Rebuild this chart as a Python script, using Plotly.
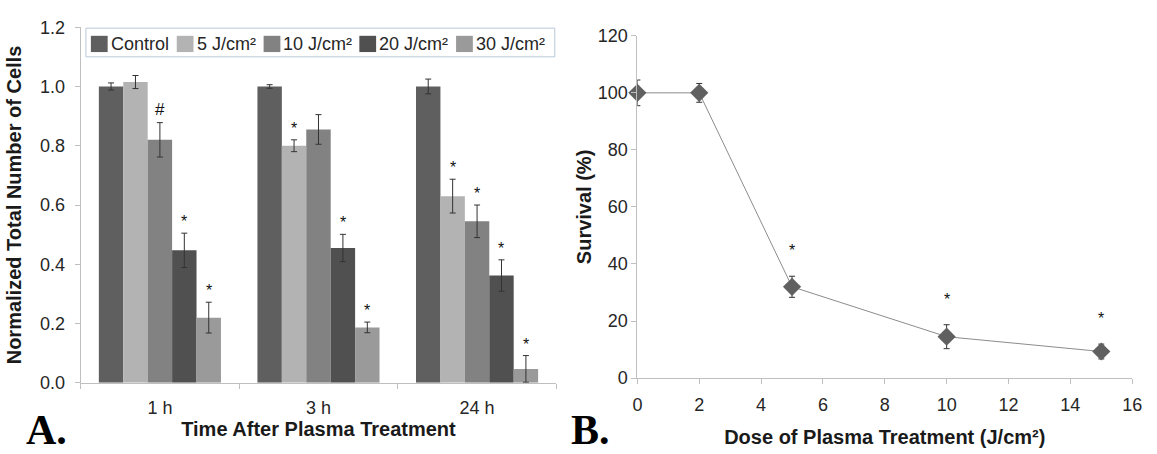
import plotly.graph_objects as go

# ---- Panel A: normalized cell counts over time ----
times = ["1 h", "3 h", "24 h"]
doses = ["Control", "5 J/cm²", "10 J/cm²", "20 J/cm²", "30 J/cm²"]
bar_colors = ["#5f5f5f", "#b3b3b3", "#828282", "#505050", "#9a9a9a"]

control = [1.00, 1.00, 1.00]
dose5 = [1.015, 0.80, 0.63]
dose10 = [0.82, 0.855, 0.545]
dose20 = [0.447, 0.455, 0.362]
dose30 = [0.22, 0.187, 0.047]

control_err = [0.012, 0.006, 0.025]
dose5_err = [0.022, 0.02, 0.057]
dose10_err = [0.058, 0.05, 0.055]
dose20_err = [0.058, 0.046, 0.053]
dose30_err = [0.052, 0.018, 0.045]

# significance marks per (time, dose) ; "" = none
marks = [
    ["", "", "#", "*", "*"],
    ["", "*", "", "*", "*"],
    ["", "*", "*", "*", "*"],
]

# ---- Panel B: survival versus dose ----
dose_b = [0, 2, 5, 10, 15]
survival = [100, 100, 32, 14.5, 9.3]
survival_err = [4.5, 3.3, 3.7, 4.2, 2.6]
marks_b = ["", "", "*", "*", "*"]

W, H = 1157, 454
BARGAP = 0.23
SANS = "Liberation Sans, Arial, sans-serif"
axis_grey = "#bfbfbf"
tick_font = dict(family=SANS, size=18, color="#262626")
title_font = dict(family=SANS, size=20, color="#1a1a1a")


def px(x):
    return x / W


def py(y):
    return 1 - y / H


fig = go.Figure()

values = [control, dose5, dose10, dose20, dose30]
errors = [control_err, dose5_err, dose10_err, dose20_err, dose30_err]
for name, col, vals, errs in zip(doses, bar_colors, values, errors):
    fig.add_trace(go.Bar(
        x=times, y=vals, name=name, showlegend=False,
        marker=dict(color=col, line=dict(width=0)),
        error_y=dict(type="data", array=errs, color="#333333", thickness=1, width=3),
        xaxis="x", yaxis="y",
    ))

fig.add_trace(go.Scatter(
    x=dose_b, y=survival, mode="lines+markers", showlegend=False, cliponaxis=False,
    line=dict(color="#8c8c8c", width=1),
    marker=dict(symbol="diamond", size=14, color="#606060"),
    error_y=dict(type="data", array=survival_err, color="#333333", thickness=1, width=3),
    xaxis="x2", yaxis="y2",
))

annotations = []
shapes = []

# significance marks above the error bars
bw = (1 - BARGAP) / len(doses)
for i in range(len(times)):
    for j in range(len(doses)):
        m = marks[i][j]
        if not m:
            continue
        top = values[j][i] + errors[j][i]
        annotations.append(dict(
            x=i + (j - 2) * bw, y=top, xref="x", yref="y", text=m, showarrow=False,
            yanchor="bottom", yshift=1 if m == "*" else 2,
            font=dict(family=SANS, size=16 if m == "*" else 17, color="#111111"),
        ))
for xv, yv, ev, m in zip(dose_b, survival, survival_err, marks_b):
    if not m:
        continue
    annotations.append(dict(
        x=xv, y=yv + ev, xref="x2", yref="y2", text=m, showarrow=False,
        yanchor="bottom", yshift=15,
        font=dict(family=SANS, size=16, color="#111111"),
    ))

# legend box for panel A (drawn as shapes + text)
shapes.append(dict(type="rect", xref="paper", yref="paper",
                   x0=px(82), x1=px(557), y0=py(49), y1=py(19),
                   line=dict(color="#b8c8d8", width=1), fillcolor="white", layer="above"))
entry_x = [87, 174, 262, 359, 457]
SQ = 17
for name, col, ex in zip(doses, bar_colors, entry_x):
    shapes.append(dict(type="rect", xref="paper", yref="paper",
                       x0=px(ex), x1=px(ex + SQ), y0=py(44), y1=py(44 - SQ),
                       line=dict(width=0), fillcolor=col, layer="above"))
    annotations.append(dict(
        x=px(ex + SQ + 1), y=py(35.5), xref="paper", yref="paper", text=name,
        showarrow=False, xanchor="left", yanchor="middle",
        font=dict(family=SANS, size=18, color="#262626"),
    ))

# panel letters
for letter, xp in (("A.", 19), ("B.", 571)):
    annotations.append(dict(
        x=px(xp), y=-12 / H, xref="paper", yref="paper", text="<b>%s</b>" % letter,
        showarrow=False, xanchor="left", yanchor="bottom",
        font=dict(family="Liberation Serif, Times New Roman, serif", size=42, color="#000000"),
    ))

common_axis = dict(showline=True, linecolor=axis_grey, linewidth=1, ticks="outside",
                   ticklen=5, tickcolor=axis_grey, showgrid=False, tickfont=tick_font)

fig.update_layout(
    width=W, height=H,
    margin=dict(l=0, r=0, t=0, b=0),
    paper_bgcolor="white", plot_bgcolor="white",
    barmode="group", bargap=BARGAP, bargroupgap=0,
    xaxis=dict(
        domain=[px(76.6), px(558.6)], type="category", tickson="boundaries",
        ticklabelstandoff=9,
        title=dict(text="<b>Time After Plasma Treatment</b>", font=title_font, standoff=2),
        anchor="y", **common_axis,
    ),
    yaxis=dict(
        domain=[py(390), py(18)], range=[0, 1.2], dtick=0.2, tickformat=".1f",
        zeroline=False, ticklabelstandoff=6,
        title=dict(text="<b>Normalized Total Number of Cells</b>", font=title_font, standoff=12),
        anchor="x", **common_axis,
    ),
    xaxis2=dict(
        domain=[px(640.7), px(1142)], range=[0, 16], dtick=2, zeroline=False,
        ticklabelstandoff=5,
        title=dict(text="<b>Dose of Plasma Treatment (J/cm²)</b>", font=title_font, standoff=16),
        anchor="y2", **common_axis,
    ),
    yaxis2=dict(
        domain=[py(385), py(27)], range=[0, 120], dtick=20, zeroline=False,
        title=dict(text="<b>Survival (%)</b>", font=title_font, standoff=0),
        anchor="x2", **common_axis,
    ),
    annotations=annotations,
    shapes=shapes,
)

fig.write_html("out.html")
